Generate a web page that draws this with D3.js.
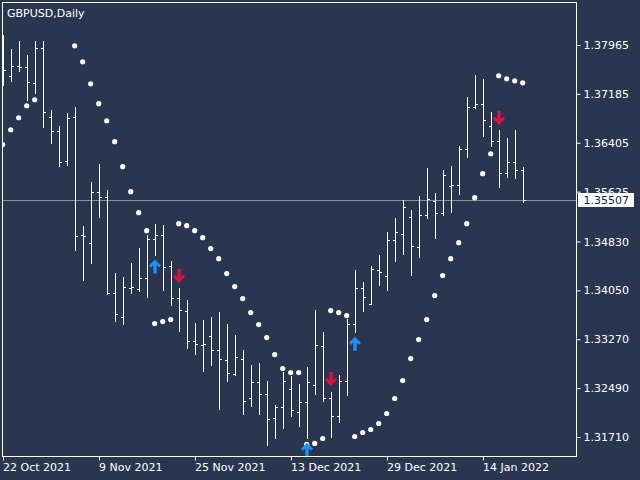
<!DOCTYPE html>
<html>
<head>
<meta charset="utf-8">
<script src="https://cdn.jsdelivr.net/npm/d3@7"></script>
<style>
  body { margin: 0; background: #2a3650; }
  svg { display: block; }
</style>
</head>
<body>
<svg width="640" height="480"></svg>
<script>
(function (d3) {

    'use strict'

    // Datos del gráfico GBPUSD diario
    const fechas = [
        '2021-10-22',
        '2021-10-25', '2021-10-26', '2021-10-27', '2021-10-28', '2021-10-29',
        '2021-11-01', '2021-11-02', '2021-11-03', '2021-11-04', '2021-11-05',
        '2021-11-08', '2021-11-09', '2021-11-10', '2021-11-11', '2021-11-12',
        '2021-11-15', '2021-11-16', '2021-11-17', '2021-11-18', '2021-11-19',
        '2021-11-22', '2021-11-23', '2021-11-24', '2021-11-25', '2021-11-26',
        '2021-11-29', '2021-11-30', '2021-12-01', '2021-12-02', '2021-12-03',
        '2021-12-06', '2021-12-07', '2021-12-08', '2021-12-09', '2021-12-10',
        '2021-12-13', '2021-12-14', '2021-12-15', '2021-12-16', '2021-12-17',
        '2021-12-20', '2021-12-21', '2021-12-22', '2021-12-23', '2021-12-24',
        '2021-12-27', '2021-12-28', '2021-12-29', '2021-12-30', '2021-12-31',
        '2022-01-03', '2022-01-04', '2022-01-05', '2022-01-06', '2022-01-07',
        '2022-01-10', '2022-01-11', '2022-01-12', '2022-01-13', '2022-01-14',
        '2022-01-17', '2022-01-18', '2022-01-19', '2022-01-20', '2022-01-21'
    ];

    const apertura = [
        1.37439, 1.37482, 1.37635, 1.37625, 1.37370, 1.37928, 1.36828, 1.36605, 1.36127, 1.36828,
        1.34935, 1.34819, 1.35632, 1.35553, 1.34022, 1.33639, 1.34102, 1.34086, 1.34261, 1.34883,
        1.34947, 1.34446, 1.33942, 1.33735, 1.33257, 1.33193, 1.33336, 1.33113, 1.32954, 1.32731,
        1.32970, 1.32348, 1.32603, 1.32412, 1.32029, 1.32189, 1.32491, 1.32109, 1.32284, 1.32555,
        1.33177, 1.32348, 1.32061, 1.32619, 1.33528, 1.34102, 1.33847, 1.34389, 1.34293, 1.34867,
        1.34963, 1.35234, 1.34756, 1.35266, 1.35489, 1.35298, 1.35728, 1.35744, 1.36318, 1.36988,
        1.37036, 1.36685, 1.36434, 1.35935, 1.36100, 1.35972
    ];

    const maximo = [
        1.38136, 1.37912, 1.38029, 1.37806, 1.38029, 1.38029, 1.36929, 1.36674, 1.36892, 1.36977,
        1.35079, 1.35781, 1.36068, 1.35653, 1.34330, 1.34266, 1.34489, 1.34728, 1.34947, 1.35122,
        1.35095, 1.34532, 1.34091, 1.33899, 1.33533, 1.33580, 1.33628, 1.33708, 1.33517, 1.33341,
        1.33102, 1.32863, 1.32895, 1.32608, 1.32225, 1.32751, 1.32688, 1.32560, 1.32831, 1.33740,
        1.33389, 1.32444, 1.32704, 1.33608, 1.34378, 1.34186, 1.34446, 1.34617, 1.34984, 1.35207,
        1.35494, 1.35334, 1.35569, 1.36004, 1.35605, 1.35972, 1.36036, 1.36355, 1.37136, 1.37487,
        1.37423, 1.36897, 1.36610, 1.36482, 1.36610, 1.36020
    ];

    const minimo = [
        1.37327, 1.37396, 1.37555, 1.37093, 1.37200, 1.36662, 1.36407, 1.36041, 1.36057, 1.34701,
        1.34223, 1.34494, 1.35227, 1.34006, 1.33569, 1.33521, 1.34016, 1.34048, 1.33952, 1.34628,
        1.34064, 1.33824, 1.33410, 1.33139, 1.33043, 1.32772, 1.32868, 1.32166, 1.32613, 1.32708,
        1.32086, 1.32214, 1.32086, 1.31592, 1.31704, 1.31863, 1.32055, 1.31895, 1.31704, 1.32405,
        1.32294, 1.31720, 1.31959, 1.32389, 1.33394, 1.33729, 1.33847, 1.34138, 1.34064, 1.34526,
        1.34638, 1.34303, 1.34590, 1.35212, 1.34893, 1.35259, 1.35307, 1.35594, 1.36184, 1.36965,
        1.36519, 1.36359, 1.35706, 1.35865, 1.35849, 1.35467
    ];

    const cierre = [
        1.37582, 1.37641, 1.37625, 1.37386, 1.37928, 1.36908, 1.36605, 1.36100, 1.36812, 1.34931,
        1.34928, 1.35632, 1.35553, 1.34010, 1.33687, 1.34118, 1.34118, 1.34261, 1.34883, 1.34947,
        1.34437, 1.33942, 1.33751, 1.33257, 1.33209, 1.33209, 1.33113, 1.32970, 1.32746, 1.33002,
        1.32300, 1.32603, 1.32412, 1.32013, 1.32189, 1.32619, 1.32141, 1.32284, 1.32603, 1.33193,
        1.32348, 1.32061, 1.32619, 1.33528, 1.34102, 1.33958, 1.34405, 1.34357, 1.34867, 1.34995,
        1.35393, 1.34771, 1.35266, 1.35521, 1.35298, 1.35903, 1.35744, 1.36318, 1.36988, 1.37036,
        1.36780, 1.36434, 1.35935, 1.36100, 1.35972, 1.35507
    ];

    // Parabolic SAR (null = sin punto)
    const sar = [
        1.36382, 1.36621, 1.36812, 1.37004, 1.37099, null, null, null, null, 1.37960,
        1.37705, 1.37354, 1.37036, 1.36764, 1.36430, 1.36031, 1.35632, 1.35298, 1.35011, 1.33528,
        1.33560, 1.33592, 1.35122, 1.35090, 1.35011, 1.34899, 1.34724, 1.34564, 1.34325, 1.34118,
        1.33926, 1.33703, 1.33512, 1.33305, 1.33034, 1.32810, 1.32746, 1.32746, 1.31599, 1.31615,
        1.31694, 1.33735, 1.33703, 1.33655, 1.31726, 1.31790, 1.31838, 1.31933, 1.32093, 1.32332,
        1.32619, 1.32970, 1.33273, 1.33592, 1.33974, 1.34293, 1.34564, 1.34819, 1.35122, 1.35537,
        1.35919, 1.36238, 1.37482, 1.37434, 1.37402, 1.37370
    ];

    // Señales (índice de la barra)
    const senalesCompra = [19, 38, 44];
    const senalesVenta = [22, 41, 62];

    const precioActual = 1.35507;
    const etiquetasPrecio = [1.37965, 1.37185, 1.36405, 1.35625, 1.34830, 1.34050, 1.33270, 1.32490, 1.31710];
    const fechasEje = ['2021-10-22', '2021-11-09', '2021-11-25', '2021-12-13', '2021-12-29', '2022-01-14'];
    const etiquetasFecha = ['22 Oct 2021', '9 Nov 2021', '25 Nov 2021', '13 Dec 2021', '29 Dec 2021', '14 Jan 2022'];

    const svg = d3.select('svg');
    const ancho = +svg.attr('width');
    const altura = +svg.attr('height');
    const fuente = "'DejaVu Sans', Verdana, sans-serif";
    const fondo = '#2a3650';

    // zona del gráfico (marco blanco)
    const zona = { left: 2.5, top: 2.5, right: 576.5, bottom: 456.5 };

    svg.append('rect')
        .attr('width', ancho).attr('height', altura)
        .attr('fill', fondo);

    const xScale = d3.scalePoint()
        .domain(fechas)
        .range([3.5, 523.5]);

    const yScale = d3.scaleLinear()
        .domain([1.31710, 1.37965])
        .range([437.5, 45.5]);

    const py = v => Math.round(yScale(v)) + 0.5; // líneas nítidas

    const datos = fechas.map((f, i) => ({
        fecha: f, o: apertura[i], h: maximo[i], l: minimo[i], c: cierre[i], sar: sar[i]
    }));

    svg.append('defs').append('clipPath').attr('id', 'recorte')
        .append('rect')
        .attr('x', 3).attr('y', 3)
        .attr('width', zona.right - 3.5).attr('height', zona.bottom - 3.5);

    const grupo = svg.append('g').attr('clip-path', 'url(#recorte)');

    // línea del precio actual
    grupo.append('line')
        .attr('x1', zona.left).attr('x2', zona.right)
        .attr('y1', py(precioActual)).attr('y2', py(precioActual))
        .attr('stroke', '#8c919a');

    // barras OHLC
    const barras = grupo.selectAll('g.barra').data(datos)
        .enter().append('g')
        .attr('class', 'barra')
        .attr('transform', d => `translate(${xScale(d.fecha)},0)`)
        .attr('stroke', '#ffffff');
    barras.append('line')
        .attr('y1', d => Math.round(yScale(d.h)))
        .attr('y2', d => Math.round(yScale(d.l)) + 1);
    barras.append('line')
        .attr('x1', -2.5).attr('x2', 0)
        .attr('y1', d => py(d.o)).attr('y2', d => py(d.o));
    barras.append('line')
        .attr('x1', 0).attr('x2', 2.5)
        .attr('y1', d => py(d.c)).attr('y2', d => py(d.c));

    // puntos SAR
    grupo.selectAll('circle.sar').data(datos.filter(d => d.sar !== null))
        .enter().append('circle')
        .attr('class', 'sar')
        .attr('cx', d => xScale(d.fecha) - 0.8)
        .attr('cy', d => yScale(d.sar))
        .attr('r', 2.6)
        .attr('fill', '#ffffff');

    // flechas de señal (punta en el origen)
    const flecha = 'M0,0 L6,6 L4,8 L1.7,5.7 L1.7,14 L-1.7,14 L-1.7,5.7 L-4,8 L-6,6 Z';
    grupo.selectAll('path.compra').data(senalesCompra.map(i => datos[i]))
        .enter().append('path')
        .attr('class', 'compra')
        .attr('d', flecha)
        .attr('fill', '#1e90ff')
        .attr('transform', d => `translate(${xScale(d.fecha) - 0.5},${yScale(d.l) + 4.8})`);
    grupo.selectAll('path.venta').data(senalesVenta.map(i => datos[i]))
        .enter().append('path')
        .attr('class', 'venta')
        .attr('d', flecha)
        .attr('fill', '#dc143c')
        .attr('transform', d => `translate(${xScale(d.fecha) - 0.5},${yScale(d.h) - 5.6}) scale(1,-1)`);

    // marco
    svg.append('rect')
        .attr('x', zona.left).attr('y', zona.top)
        .attr('width', zona.right - zona.left).attr('height', zona.bottom - zona.top)
        .attr('fill', 'none').attr('stroke', '#ffffff');

    // eje de precios
    const ejeY = svg.append('g')
        .attr('transform', `translate(${zona.right},0)`)
        .call(d3.axisRight(yScale).tickValues(etiquetasPrecio)
            .tickFormat(d3.format('.5f')).tickSize(4).tickPadding(3).offset(0));
    ejeY.select('.domain').remove();
    ejeY.attr('font-family', fuente).attr('font-size', 11);
    ejeY.selectAll('.tick line').attr('stroke', '#ffffff');
    ejeY.selectAll('.tick text').attr('fill', '#ffffff');

    // eje de fechas
    const ejeX = svg.append('g')
        .attr('transform', `translate(0,${zona.bottom})`)
        .call(d3.axisBottom(xScale).tickValues(fechasEje)
            .tickFormat((d, i) => etiquetasFecha[i]).tickSize(4).tickPadding(3).offset(0));
    ejeX.select('.domain').remove();
    ejeX.attr('font-family', fuente).attr('font-size', 11);
    ejeX.selectAll('.tick line').attr('stroke', '#ffffff');
    ejeX.selectAll('.tick text').attr('fill', '#ffffff')
        .attr('text-anchor', 'start').attr('x', -0.5);

    // etiqueta del precio actual (tapa parcialmente 1.35625, como en MT4)
    svg.append('rect')
        .attr('x', 578).attr('y', py(precioActual) - 7.5)
        .attr('width', 56).attr('height', 14)
        .attr('fill', '#ffffff');
    svg.append('text')
        .attr('x', zona.right + 7).attr('y', py(precioActual))
        .attr('dy', '0.32em')
        .attr('font-family', fuente).attr('font-size', 11)
        .attr('fill', '#1b2438')
        .text(d3.format('.5f')(precioActual));

    // título
    svg.append('text')
        .attr('x', 7).attr('y', 17)
        .attr('font-family', fuente).attr('font-size', 11)
        .attr('fill', '#ffffff')
        .text('GBPUSD,Daily');

}(d3));
</script>
</body>
</html>
